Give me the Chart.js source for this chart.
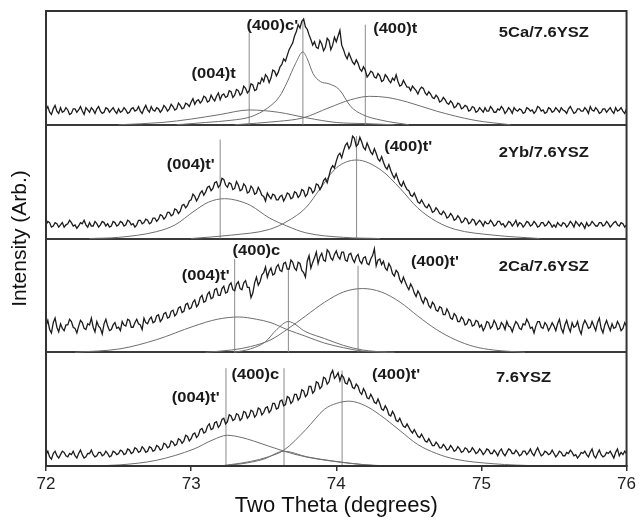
<!DOCTYPE html>
<html><head><meta charset="utf-8">
<script src="https://cdn.jsdelivr.net/npm/chart.js@4.4.0/dist/chart.umd.min.js"></script>
<style>html,body{margin:0;padding:0;background:#fff;}canvas{display:block;}</style>
</head><body>
<canvas id="c" width="639" height="525"></canvas>
<script>
// ---------- DATA ----------
// sampling grid of the measured scans (two theta, degrees)
const xStart = 72, xStep = 0.0125;
// panel names, bottom to top
const panelNames = ["7.6YSZ", "2Ca/7.6YSZ", "2Yb/7.6YSZ", "5Ca/7.6YSZ"];

// measured intensity (arb., 0-100 within each panel)
const obs5Ca = [
13,16,11,9,14,17,12,10,15,11,12,15,13,9,10,14,14,11,13,16,12,9,15,13,11,15,13,10,14,16,12,10,11,15,14,11,13,15,12,10,
14,11,12,15,13,10,11,14,15,12,13,16,12,10,14,17,13,11,16,13,12,15,14,11,13,17,15,12,14,18,16,13,14,19,17,14,15,19,18,16,
20,23,18,21,22,19,21,25,24,20,21,26,23,21,25,28,22,26,27,24,25,30,29,24,26,31,30,26,28,34,32,28,30,36,35,30,31,37,36,41,
38,44,42,37,41,48,47,43,46,51,53,58,56,61,66,69,72,78,82,88,85,91,93,86,84,79,75,70,73,68,67,74,71,65,68,76,74,66,70,77,
73,78,83,70,66,61,58,63,59,55,53,57,54,49,47,51,48,42,44,47,46,42,41,45,43,38,39,44,42,39,37,41,39,44,38,34,35,39,36,33,
33,30,34,32,30,27,31,33,32,28,26,29,27,24,23,26,24,20,21,24,22,19,18,21,19,15,16,19,18,14,15,17,16,12,13,16,15,11,12,15,
13,11,15,12,12,16,14,11,11,14,13,16,14,10,12,15,13,10,15,13,12,14,13,10,11,15,14,12,13,10,12,16,15,12,13,10,11,15,14,11,
12,15,13,11,15,13,12,10,14,16,13,10,11,14,14,12,12,15,13,10,16,13,12,15,13,10,11,14,14,11,13,15,12,10,15,12,13,15,12,10,14];
const obs2Yb = [
12,15,14,10,11,14,13,10,12,14,10,12,13,16,14,11,12,9,11,14,13,16,12,10,14,11,11,15,13,10,12,15,14,11,13,10,11,15,14,11,
12,15,14,11,12,16,15,12,13,10,12,16,16,13,14,17,16,13,14,18,18,15,17,21,20,17,19,23,23,20,21,26,25,22,24,29,30,27,29,33,
34,39,37,33,36,40,42,38,41,45,46,42,44,49,50,45,47,53,52,47,45,49,48,43,44,50,47,42,43,48,46,40,41,46,44,39,40,45,42,38,
37,33,40,37,35,39,38,34,34,37,38,33,36,40,39,35,36,41,40,36,38,43,42,37,39,45,44,40,42,48,47,43,46,51,53,49,55,61,64,62,
68,73,75,71,77,82,84,79,82,90,88,81,83,89,85,80,78,84,80,76,74,79,75,70,68,72,67,63,61,65,60,56,53,57,52,48,46,50,46,43,
42,38,37,40,36,32,31,34,31,28,27,30,27,23,24,27,25,22,21,24,22,18,19,22,20,16,17,20,18,14,15,18,17,13,14,17,16,12,14,16,
14,11,15,13,13,16,14,11,12,15,15,12,13,10,12,15,14,11,13,16,11,14,13,10,12,15,14,11,12,15,13,10,11,14,14,11,12,15,13,10,
12,10,14,12,11,14,13,10,12,15,13,10,15,13,11,14,12,9,14,11,12,15,13,11,11,14,14,11,12,15,13,10,12,14,15,12,11,14,13,10,12];
const obs2Ca = [
23,28,20,17,26,30,22,18,25,21,19,24,24,29,27,22,21,17,23,28,26,21,20,25,24,30,22,18,27,23,21,16,25,29,23,19,20,24,26,21,
22,19,27,24,23,29,28,22,22,26,29,25,24,20,30,26,25,29,31,26,27,32,33,27,29,34,35,30,31,36,37,32,34,39,40,35,36,42,43,38,
39,44,46,40,42,48,50,44,45,51,53,47,48,55,56,50,50,56,58,52,53,59,61,55,54,60,62,56,55,61,63,57,57,48,52,61,66,59,62,68,
70,75,66,71,74,68,69,75,77,72,71,78,79,73,73,81,79,74,72,79,78,72,70,66,80,85,74,79,83,88,78,84,87,81,80,90,88,83,81,86,
89,84,82,88,88,81,80,86,87,82,79,84,86,80,78,83,84,78,77,82,85,91,76,81,82,77,80,74,72,78,75,69,67,72,70,64,61,66,62,58,
55,60,57,52,49,54,51,46,43,48,46,41,39,44,42,37,36,40,39,33,33,38,35,30,29,34,32,27,27,31,29,24,25,29,28,23,24,28,27,22,
24,19,22,27,26,21,23,28,25,20,21,26,24,20,27,23,22,18,23,27,25,21,20,25,24,29,26,21,22,17,23,27,27,22,21,26,24,19,22,26,
23,19,25,29,21,17,24,28,22,18,26,22,23,27,20,16,24,28,25,21,22,27,23,19,26,30,21,17,24,28,23,19,25,21,22,27,24,19,21,26,23];
const obs76 = [
10,13,8,6,11,13,9,7,10,13,12,9,8,11,10,13,9,7,11,14,10,7,8,11,11,14,10,8,9,12,12,9,10,13,11,8,9,13,12,10,
11,14,13,10,11,15,14,11,12,16,15,12,13,17,15,12,13,17,16,13,14,18,17,14,15,20,19,16,17,22,21,18,19,24,23,20,22,27,26,22,
24,28,29,25,27,32,33,29,30,35,37,32,33,38,39,34,36,41,42,37,39,45,44,40,41,46,45,40,42,48,47,42,44,49,48,43,45,51,50,45,
47,51,52,47,49,55,55,50,51,57,58,53,54,61,60,55,57,63,63,58,60,67,66,61,63,70,70,64,66,74,73,68,70,78,77,72,74,81,84,77,
79,82,75,80,78,73,72,77,74,69,68,72,70,65,63,68,65,60,59,63,60,56,55,59,55,50,49,53,50,45,44,48,45,40,39,42,38,35,34,37,
34,31,29,32,29,26,25,28,25,22,21,24,21,18,18,21,19,16,16,19,17,14,15,18,16,13,14,17,15,12,13,16,15,12,13,16,14,11,12,15,
13,10,12,15,14,11,11,14,12,9,13,15,11,9,12,15,14,11,11,14,12,9,10,13,13,10,12,15,11,9,13,16,12,9,10,13,12,10,11,14,
11,8,10,13,12,9,9,12,11,14,12,9,10,7,9,12,11,13,10,8,12,15,9,7,11,14,10,8,9,12,11,13,10,7,12,15,9,12,10,13,11];

// fitted peak profiles (two theta, intensity)
const fit5Ca_004t_x  = [72.5,72.8,73.0,73.2,73.4,73.6,73.8,74.0,74.2,74.4];
const fit5Ca_004t_y  = [0,2,5,9,13,11,6,2,1,0];
const fit5Ca_400c_x  = [72.9,73.1,73.28,73.41,73.53,73.61,73.66,73.72,73.77,73.8,73.84,73.89,73.95,74.02,74.1,74.18,74.31,74.5];
const fit5Ca_400c_y  = [0,2,4,7,15,25,37,54,64,58,45,38,36,31,16,9,4,0];
const fit5Ca_400t_x  = [73.3,73.6,73.77,73.95,74.1,74.23,74.35,74.49,74.69,74.95,75.2];
const fit5Ca_400t_y  = [0,3,6,15,22,25,24,20,12,4,0];

const fit2Yb_004t_x  = [72.3,72.5,72.76,72.89,73.02,73.12,73.23,73.33,73.41,73.54,73.66,73.79,74.05,74.3];
const fit2Yb_004t_y  = [0,1,6,12,24,32,35,33,29,18,11,5,1,0];
const fit2Yb_400t_x  = [73.0,73.28,73.54,73.66,73.79,73.89,74.0,74.14,74.31,74.44,74.56,74.69,74.82,75.08,75.4];
const fit2Yb_400t_y  = [0,3,8,15,27,44,62,69,60,44,27,15,8,3,0];

const fit2Ca_004t_x  = [72.2,72.51,72.76,73.02,73.18,73.33,73.45,73.55,73.66,73.79,73.92,74.05,74.18,74.4];
const fit2Ca_004t_y  = [0,3,11,23,29,31,29,26,20,14,8,4,1,0];
const fit2Ca_400c_x  = [73.3,73.41,73.51,73.59,73.67,73.79,73.92,74.05,74.18,74.35];
const fit2Ca_400c_y  = [0,3,9,20,27,18,12,6,2,0];
const fit2Ca_400t_x  = [73.1,73.28,73.41,73.55,73.66,73.79,73.92,74.05,74.18,74.31,74.44,74.56,74.69,74.82,74.95,75.08,75.3];
const fit2Ca_400t_y  = [0,2,5,11,20,32,44,53,56,53,44,32,20,11,5,2,0];

const fit76_004t_x   = [72.3,72.51,72.76,73.02,73.15,73.25,73.35,73.43,73.64,73.79,74.05,74.3];
const fit76_004t_y   = [0,1,5,15,23,27,25,22,13,8,3,0];
const fit76_400c_x   = [73.2,73.35,73.5,73.64,73.8,74.0,74.2,74.4];
const fit76_400c_y   = [0,2,6,13,8,4,1,0];
const fit76_400t_x   = [73.2,73.41,73.53,73.64,73.79,73.92,74.0,74.09,74.2,74.3,74.44,74.56,74.69,74.82,75.08,75.4];
const fit76_400t_y   = [0,4,8,14,32,50,55,57,53,45,31,19,11,6,2,0];

// peak position markers (two theta) and their heights
const mark5Ca = [73.40, 73.77, 74.20];   const markTop5Ca = [81, 92, 88];
const mark2Yb = [73.20, 74.14];          const markTop2Yb = [87, 90];
const mark2Ca = [73.30, 73.67, 74.15];   const markTop2Ca = [82, 74, 76];
const mark76  = [73.24, 73.64, 74.04];   const markTop76  = [86, 86, 84];

// peak names
const peaks5Ca = ["(004)t", "(400)c'", "(400)t"];
const peaks2Yb = ["(004)t'", "(400)t'"];
const peaks2Ca = ["(004)t'", "(400)c", "(400)t'"];
const peaks76  = ["(004)t'", "(400)c", "(400)t'"];

const xTicks = [72, 73, 74, 75, 76];

// ---------- LAYOUT (label placement, in axis units) ----------
const labelPlace = [
  {panel:3, names:peaks5Ca, at:[[73.003,44.6],[73.381,86.8],[74.254,84.2]], title:[75.12,80.7]},
  {panel:2, names:peaks2Yb, at:[[72.832,64.6],[74.33,80.4]], title:[75.12,75.2]},
  {panel:1, names:peaks2Ca, at:[[72.935,67.0],[73.285,89.0],[74.515,79.3]], title:[75.12,74.9]},
  {panel:0, names:peaks76,  at:[[72.866,59.8],[73.278,80.0],[74.247,80.0]], title:[75.10,77.4]}
];

// ---------- BUILD ----------
const OBS_COLOR = '#1c1c1c', FIT_COLOR = '#6e6e6e', MARK_COLOR = '#8a8a8a';
function obsSet(vals, k) {
  return {data: vals.map((v, i) => ({x: xStart + i * xStep, y: k + v / 100})),
    borderColor: OBS_COLOR, borderWidth: 1.3, pointRadius: 0, tension: 0, order: 0};
}
function fitSet(xs, ys, k) {
  return {data: xs.map((x, i) => ({x: x, y: k + ys[i] / 100})),
    borderColor: FIT_COLOR, borderWidth: 1, pointRadius: 0, cubicInterpolationMode: 'monotone', order: 1};
}
function markSets(xs, tops, k) {
  return xs.map((x, i) => ({data: [{x: x, y: k}, {x: x, y: k + tops[i] / 100}],
    borderColor: MARK_COLOR, borderWidth: 1, pointRadius: 0, order: 2}));
}
const datasets = [
  obsSet(obs76, 0), obsSet(obs2Ca, 1), obsSet(obs2Yb, 2), obsSet(obs5Ca, 3),
  fitSet(fit76_004t_x, fit76_004t_y, 0), fitSet(fit76_400c_x, fit76_400c_y, 0), fitSet(fit76_400t_x, fit76_400t_y, 0),
  fitSet(fit2Ca_004t_x, fit2Ca_004t_y, 1), fitSet(fit2Ca_400c_x, fit2Ca_400c_y, 1), fitSet(fit2Ca_400t_x, fit2Ca_400t_y, 1),
  fitSet(fit2Yb_004t_x, fit2Yb_004t_y, 2), fitSet(fit2Yb_400t_x, fit2Yb_400t_y, 2),
  fitSet(fit5Ca_004t_x, fit5Ca_004t_y, 3), fitSet(fit5Ca_400c_x, fit5Ca_400c_y, 3), fitSet(fit5Ca_400t_x, fit5Ca_400t_y, 3),
  ...markSets(mark76, markTop76, 0), ...markSets(mark2Ca, markTop2Ca, 1),
  ...markSets(mark2Yb, markTop2Yb, 2), ...markSets(mark5Ca, markTop5Ca, 3)
];

const labelPlugin = {
  id: 'peakLabels',
  afterDatasetsDraw(chart) {
    const {ctx, scales: {x, y}, chartArea: a} = chart;
    ctx.save();
    ctx.fillStyle = '#1a1a1a';
    ctx.textBaseline = 'middle';
    ctx.textAlign = 'left';
    ctx.font = 'bold 14px "Liberation Sans", Arial, sans-serif';
    const put = (t, xv, yv) => {
      ctx.save();
      ctx.translate(x.getPixelForValue(xv), y.getPixelForValue(yv));
      ctx.scale(1.18, 1);
      ctx.fillText(t, 0, 0);
      ctx.restore();
    };
    labelPlace.forEach(p => {
      p.names.forEach((n, i) => put(n, p.at[i][0], p.panel + p.at[i][1] / 100));
      put(panelNames[p.panel], p.title[0], p.panel + p.title[1] / 100);
    });
    // frame
    ctx.strokeStyle = '#333';
    ctx.lineWidth = 2;
    ctx.strokeRect(a.left, a.top, a.right - a.left, a.bottom - a.top);
    ctx.restore();
  }
};

new Chart(document.getElementById('c'), {
  type: 'line',
  data: {datasets},
  plugins: [labelPlugin],
  options: {
    responsive: false, animation: false, devicePixelRatio: 1,
    layout: {padding: {top: 11, right: 11, left: 0, bottom: 0}},
    plugins: {legend: {display: false}, tooltip: {enabled: false}},
    scales: {
      x: {
        type: 'linear', min: 72, max: 76,
        afterBuildTicks: s => { s.ticks = xTicks.map(v => ({value: v})); },
        afterFit: s => { s.height = 59; },
        ticks: {color: '#222', font: {size: 17, family: '"Liberation Sans", Arial, sans-serif'}, padding: 3, maxRotation: 0},
        grid: {drawOnChartArea: false, drawTicks: true, tickLength: 5, color: '#333', lineWidth: 1.5},
        border: {display: true, color: '#333', width: 2},
        title: {display: true, text: 'Two Theta (degrees)', color: '#111',
          font: {size: 22, family: '"Liberation Sans", Arial, sans-serif'}, padding: {top: 0, bottom: 6}}
      },
      y: {
        type: 'linear', min: 0, max: 4,
        afterFit: s => { s.width = 46; },
        ticks: {display: false, stepSize: 1},
        grid: {drawTicks: false, lineWidth: 2,
          color: c => (c.tick && c.tick.value > 0 && c.tick.value < 4) ? '#3a3a3a' : 'rgba(0,0,0,0)'},
        border: {display: true, color: '#333', width: 2},
        title: {display: true, text: 'Intensity (Arb.)', color: '#111',
          font: {size: 21, family: '"Liberation Sans", Arial, sans-serif'}, padding: {top: 8, bottom: 0}}
      }
    }
  }
});
</script>
</body></html>
